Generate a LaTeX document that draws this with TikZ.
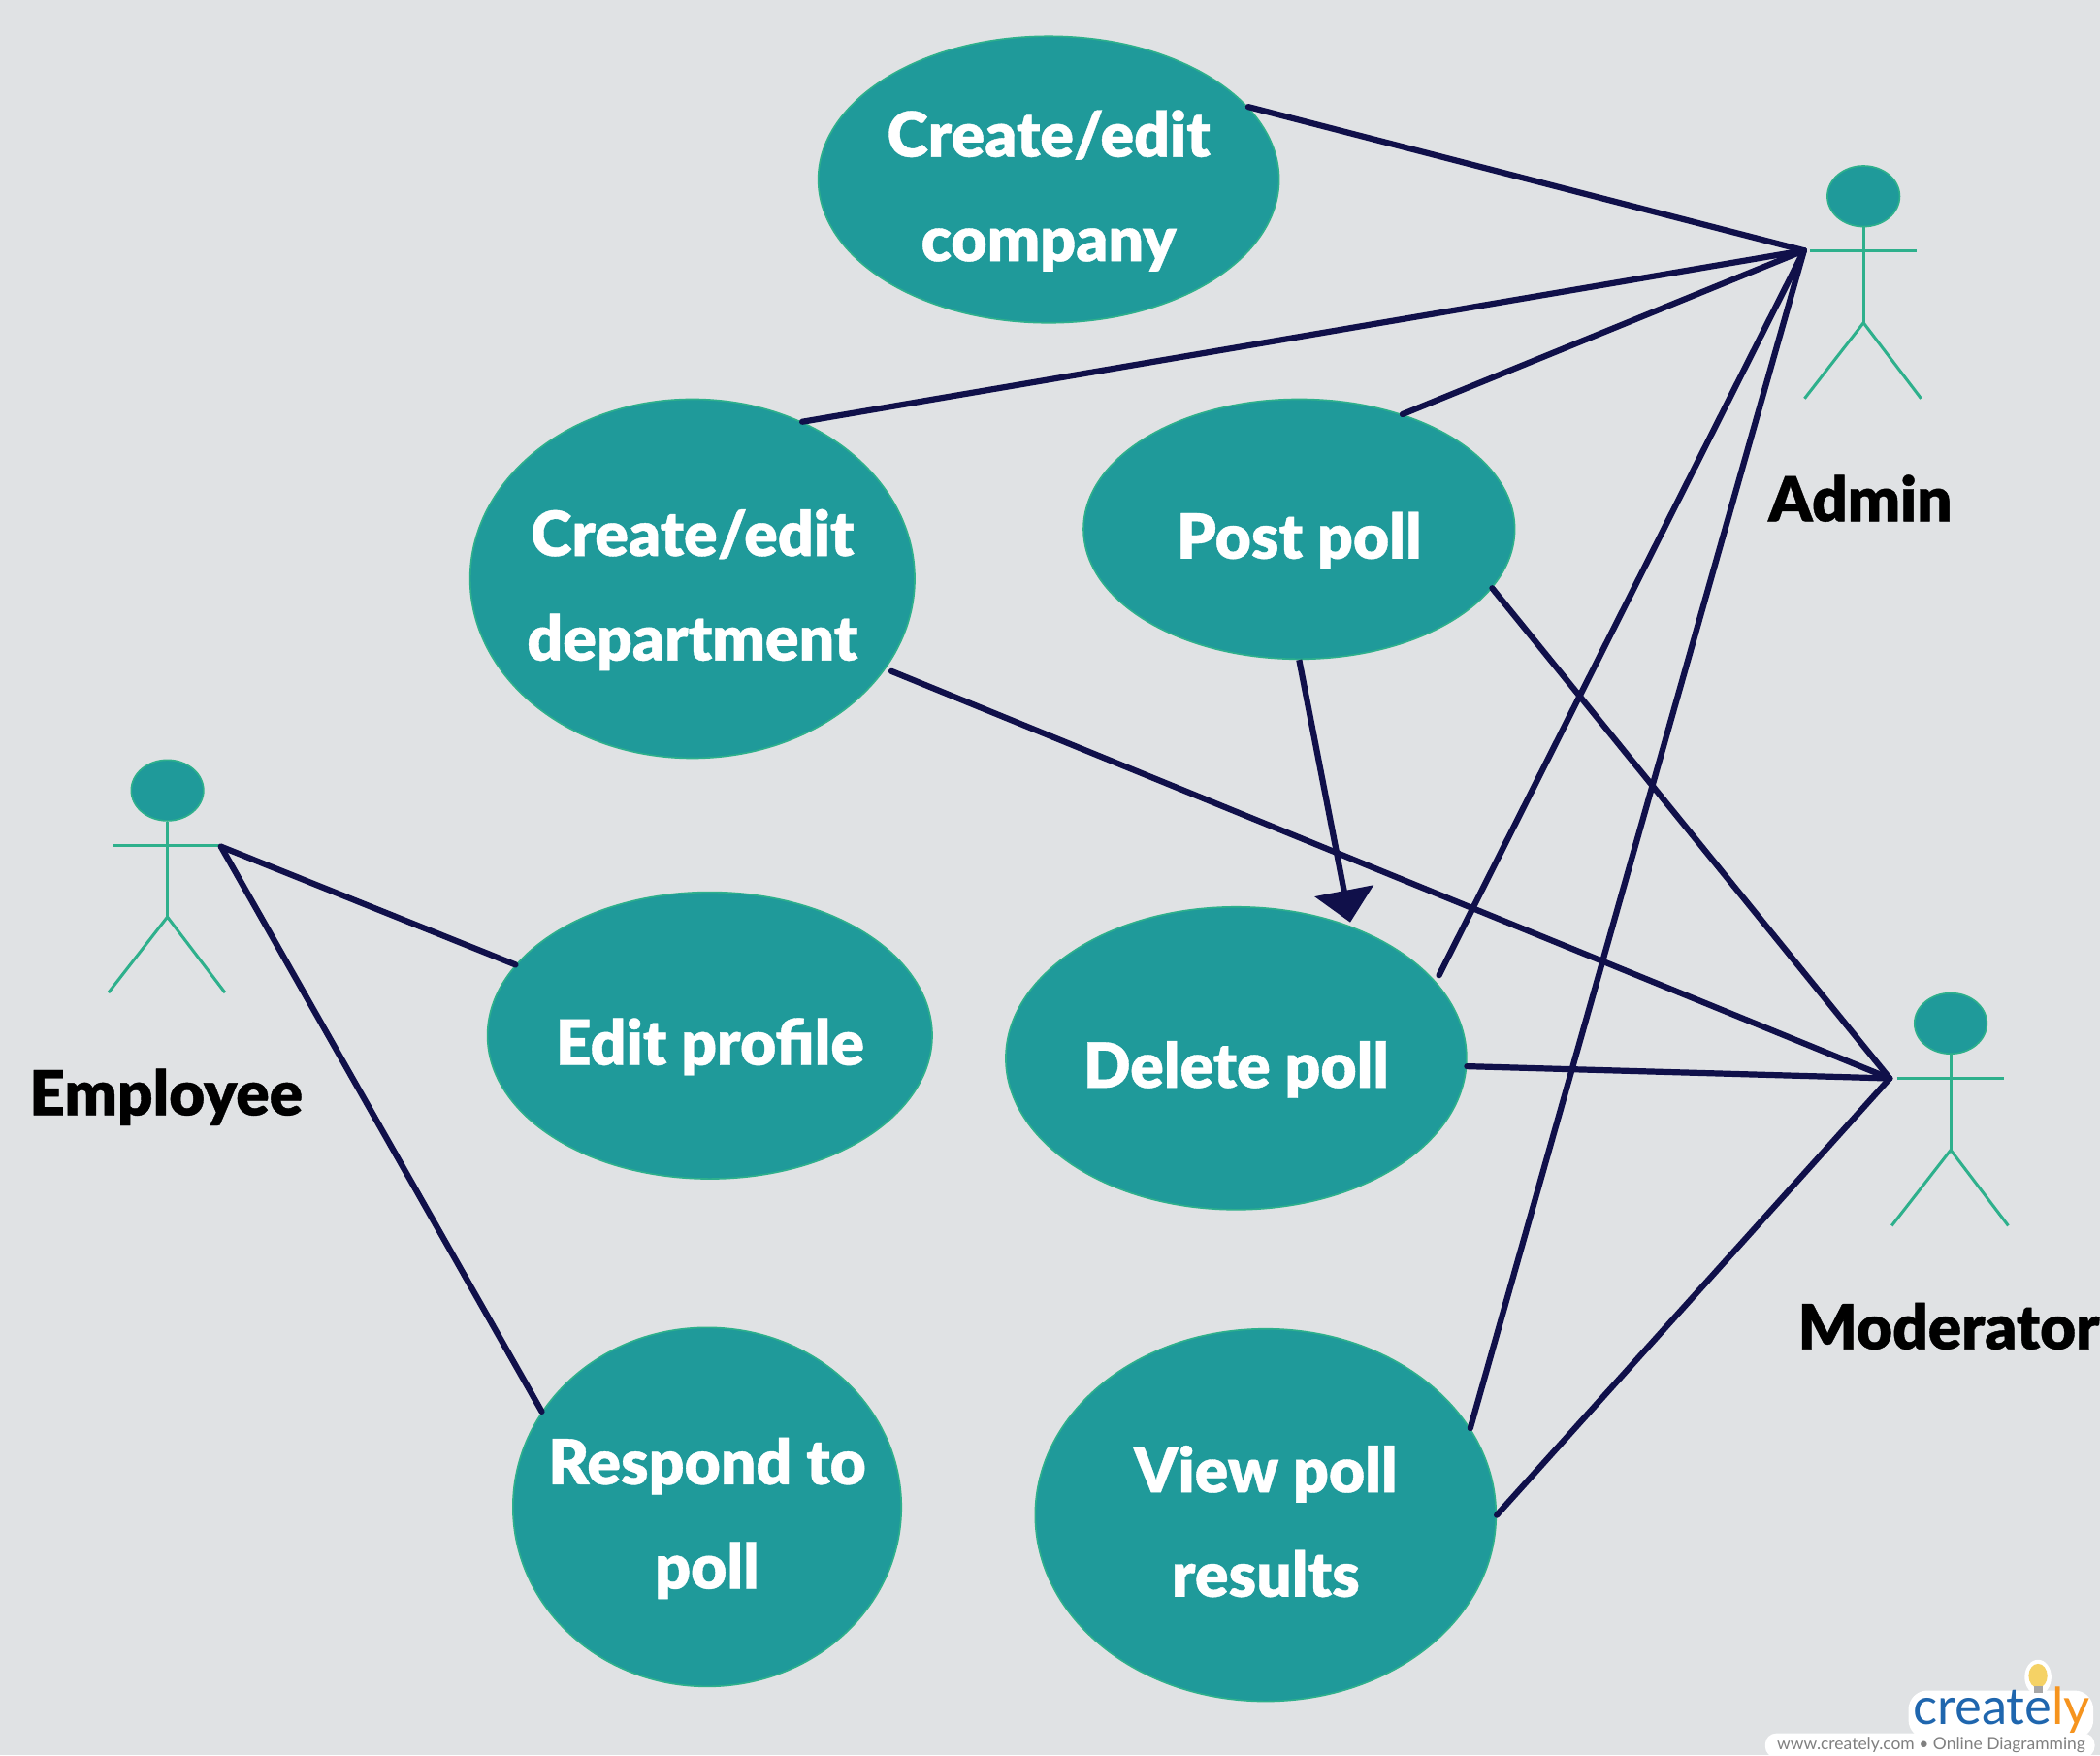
\documentclass[tikz,border=0pt]{standalone}
\usepackage{fontspec}
\setmainfont{Lato}
\newfontfamily\blackfont[FakeBold=0.6]{Lato Black}
\usetikzlibrary{shapes.geometric,arrows.meta}
\definecolor{bgc}{HTML}{E0E2E4}
\definecolor{tealf}{HTML}{1F9A9A}
\definecolor{greenl}{HTML}{2EB08C}
\definecolor{navy}{HTML}{10104A}
\definecolor{logoblue}{HTML}{1F66AE}
\definecolor{logoorange}{HTML}{F6941E}
\definecolor{bulb}{HTML}{F5D265}
\newcommand\uclab[1]{\makebox[0pt]{\raisebox{-11.7pt}[0pt][0pt]{\begin{tabular}{@{}c@{}}#1\end{tabular}}}}
\tikzset{
  usecase/.style={ellipse,draw=greenl,fill=tealf,line width=1pt,inner sep=0pt,text=white,
    font=\blackfont\fontsize{39.7}{66.5}\selectfont},
  conn/.style={draw=navy,line width=0.135cm,line cap=round},
  limb/.style={draw=greenl,line width=0.066cm},
  head/.style={ellipse,draw=greenl,fill=tealf,line width=1pt,inner sep=0pt,minimum width=1.62cm,minimum height=1.36cm},
  actorname/.style={text=black,inner sep=0pt,font=\blackfont\fontsize{39.5}{44}\selectfont},
}
\newcommand\actor[3]{% name, head x, head y
  \node[head] (#1head) at (#2,#3) {};
  \draw[limb] (#1head.south) -- (#2,#3+94.5) coordinate (#1waist);
  \draw[limb] (#2-40,#3+41) -- (#2+40,#3+41);
  \draw[limb] (#2-44,#3+151) -- (#1waist) -- (#2+43,#3+151);
}
\begin{document}
\begin{tikzpicture}[x=0.03cm,y=-0.03cm]
\useasboundingbox (0,0) rectangle (1568,1310.2);
\fill[bgc] (0,0) rectangle (1568,1310.2);

\node[usecase,minimum width=10.32cm,minimum height=6.42cm] (company) at (783,134) {\uclab{Create/edit\\company}};
\node[usecase,minimum width=9.96cm,minimum height=8.04cm] (department) at (517,432) {\uclab{Create/edit\\department}};
\node[usecase,minimum width=9.66cm,minimum height=5.82cm] (post) at (970,395) {\uclab{Post poll}};
\node[usecase,minimum width=9.96cm,minimum height=6.42cm] (edit) at (530,773) {\uclab{Edit profile}};
\node[usecase,minimum width=10.32cm,minimum height=6.78cm] (delete) at (923,790) {\uclab{Delete poll}};
\node[usecase,minimum width=8.7cm,minimum height=8.04cm] (respond) at (528,1125) {\uclab{Respond to\\poll}};
\node[usecase,minimum width=10.32cm,minimum height=8.34cm] (view) at (945,1131) {\uclab{View poll\\results}};

\actor{admin}{1391.4}{146.5}
\actor{employee}{125}{590}
\actor{moderator}{1456.5}{764}

\node[actorname] (adminname) at (1389,372) {Admin};
\node[actorname] (employeename) at (124,819) {Employee};
\node[actorname] (moderatorname) at (1455,990) {Moderator};

\coordinate (adminhand) at (1347,187);
\coordinate (modhand) at (1411,805);
\coordinate (emphand) at (165,632);

\draw[conn] (company.20) -- (adminhand);
\draw[conn] (department.55.3) -- (adminhand);
\draw[conn] (post.48.9) -- (adminhand);
\draw[conn,shorten <=4.5pt] (delete.21.2) -- (adminhand);
\draw[conn] (view.23.3) -- (adminhand);
\draw[conn,shorten <=4pt] (department.-25.9) -- (modhand);
\draw[conn] (post.-17) -- (modhand);
\draw[conn] (delete.-2.2) -- (modhand);
\draw[conn] (view.0) -- (modhand);
\draw[conn] (emphand) -- (edit.160.5);
\draw[conn] (emphand) -- (respond.150.4);
\draw[conn,shorten >=2.5pt,-{Triangle[length=0.72cm,width=1.32cm,fill=navy]},line cap=butt] (post.-90) -- (delete.49.5);

% logo
\fill[white,rounded corners=7] (1318,1294) rectangle (1564,1312);
\fill[white,rounded corners=12] (1425,1262) rectangle (1563,1298);
\fill[white] (1521.7,1252) ellipse [x radius=10,y radius=13];
\fill[bulb] (1521.7,1251) ellipse [x radius=7,y radius=9];
\fill[gray!70] (1518.5,1259) rectangle (1525,1264);
\node[inner sep=0pt,anchor=base west,font=\fontsize{32.5}{34}\selectfont] (logo) at (1428,1287) {\textcolor{logoblue}{create}\textcolor{logoorange}{ly}};
\node[inner sep=0pt,text=black!50,font=\fontsize{10.8}{12}\selectfont] (url) at (1442,1303) {www.creately.com • Online Diagramming};
\end{tikzpicture}
\end{document}
